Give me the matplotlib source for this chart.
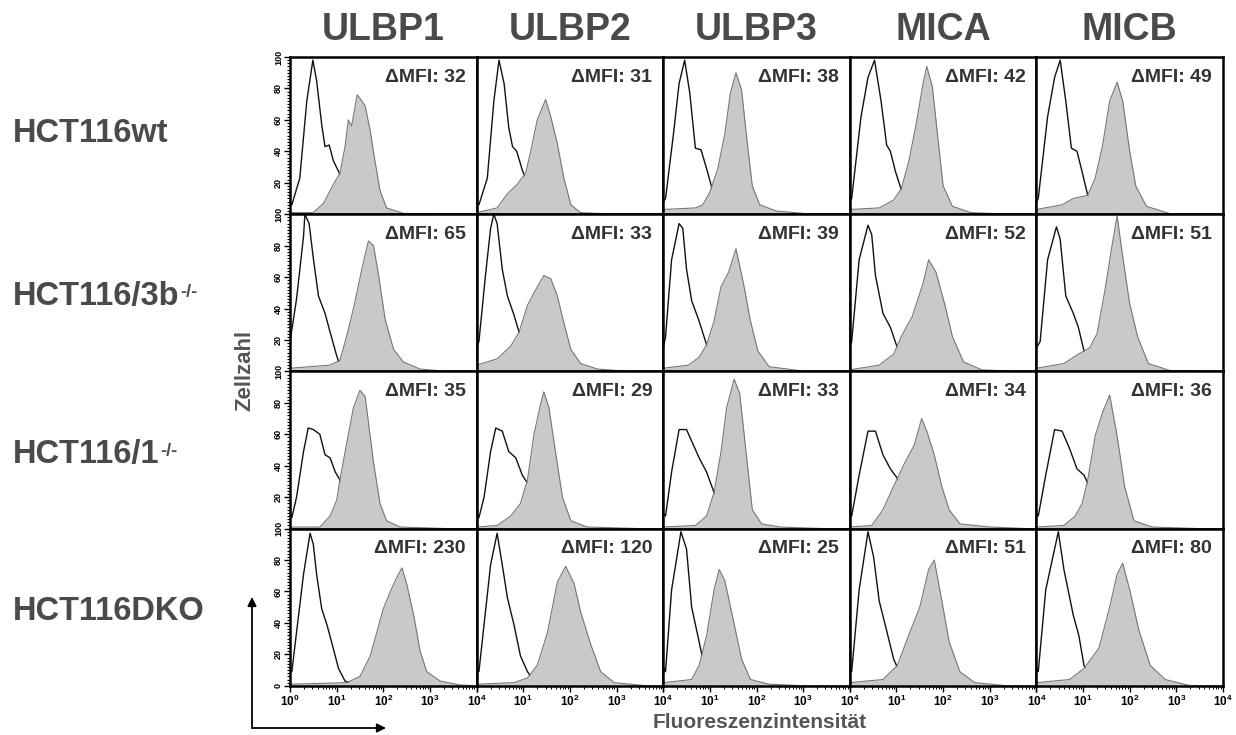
import numpy as np
import matplotlib
matplotlib.use('Agg')
import matplotlib.pyplot as plt
from matplotlib.ticker import FixedLocator, MultipleLocator, LogLocator, NullFormatter
from matplotlib.patches import FancyArrowPatch

matplotlib.rcParams['font.family'] = ['Liberation Sans', 'DejaVu Sans']
matplotlib.rcParams['font.weight'] = 'bold'
matplotlib.rcParams['mathtext.fontset'] = 'custom'
matplotlib.rcParams['mathtext.rm'] = 'Liberation Sans:bold'
matplotlib.rcParams['mathtext.bf'] = 'Liberation Sans:bold'
matplotlib.rcParams['mathtext.it'] = 'Liberation Sans:bold'

markers = ['ULBP1', 'ULBP2', 'ULBP3', 'MICA', 'MICB']
cell_lines = ['HCT116wt', 'HCT116/3b', 'HCT116/1', 'HCT116DKO']
superscripts = ['', '-/-', '-/-', '']

mfi_wt = [32, 31, 38, 42, 49]
mfi_3b = [65, 33, 39, 52, 51]
mfi_1 = [35, 29, 33, 34, 36]
mfi_dko = [230, 120, 25, 51, 80]

# histogram outlines: x in decades (log10 intensity), y in % of max
# isotype control (open black line)
ctrl_x_wt = [[0.0, 0.04, 0.21, 0.36, 0.49, 0.57, 0.68, 0.75, 0.84, 0.93, 1.06, 1.3, 1.6, 2.0],
             [0.0, 0.05, 0.23, 0.37, 0.48, 0.59, 0.69, 0.77, 0.86, 0.98, 1.05, 1.3, 1.6, 2.0],
             [0.0, 0.05, 0.22, 0.34, 0.46, 0.57, 0.69, 0.81, 0.93, 1.05, 1.3, 1.6],
             [0.0, 0.04, 0.24, 0.39, 0.53, 0.67, 0.79, 0.87, 0.98, 1.1, 1.35, 1.7],
             [0.0, 0.04, 0.24, 0.39, 0.51, 0.63, 0.75, 0.87, 0.98, 1.1, 1.35, 1.7]]
ctrl_y_wt = [[8, 6, 23, 72, 98, 85, 57, 43, 44, 34, 26, 10, 2, 0],
             [8, 6, 23, 72, 98, 83, 55, 43, 40, 28, 23, 8, 2, 0],
             [8, 10, 51, 83, 98, 77, 42, 41, 29, 16, 4, 0],
             [8, 10, 62, 87, 98, 72, 44, 40, 27, 16, 4, 0],
             [8, 10, 62, 87, 98, 72, 42, 40, 27, 12, 3, 0]]
ctrl_x_3b = [[0.0, 0.14, 0.29, 0.32, 0.41, 0.5, 0.61, 0.75, 0.86, 1.0, 1.07, 1.3],
             [0.0, 0.05, 0.19, 0.3, 0.37, 0.44, 0.55, 0.66, 0.8, 0.91, 1.1, 1.4],
             [0.0, 0.05, 0.18, 0.34, 0.42, 0.5, 0.61, 0.77, 0.93, 1.1, 1.4],
             [0.0, 0.04, 0.2, 0.39, 0.47, 0.55, 0.71, 0.87, 1.02, 1.2, 1.5],
             [0.0, 0.08, 0.24, 0.43, 0.51, 0.63, 0.79, 0.9, 1.02, 1.2, 1.5]]
ctrl_y_3b = [[19, 46, 86, 100, 94, 72, 48, 37, 25, 10, 4, 0],
             [15, 19, 61, 91, 100, 94, 65, 48, 36, 25, 10, 0],
             [15, 22, 71, 94, 91, 65, 45, 32, 17, 6, 0],
             [15, 19, 71, 93, 87, 61, 37, 28, 15, 5, 0],
             [15, 19, 71, 92, 84, 48, 37, 28, 13, 4, 0]]
ctrl_x_1 = [[0.0, 0.04, 0.14, 0.29, 0.39, 0.5, 0.64, 0.75, 0.86, 0.97, 1.07, 1.3, 1.6, 1.9],
            [0.0, 0.05, 0.16, 0.3, 0.41, 0.55, 0.69, 0.84, 0.98, 1.09, 1.3, 1.6, 1.9],
            [0.0, 0.05, 0.18, 0.34, 0.5, 0.65, 0.77, 0.93, 1.09, 1.3, 1.6, 1.9],
            [0.0, 0.04, 0.2, 0.39, 0.55, 0.71, 0.87, 1.02, 1.3, 1.6, 1.9],
            [0.0, 0.04, 0.2, 0.39, 0.55, 0.71, 0.87, 1.02, 1.1, 1.3, 1.6, 1.9]]
ctrl_y_1 = [[10, 7, 20, 49, 64, 63, 60, 47, 45, 36, 31, 15, 4, 0],
            [10, 7, 20, 49, 64, 62, 49, 45, 34, 29, 15, 4, 0],
            [10, 8, 36, 63, 63, 53, 45, 36, 23, 12, 3, 0],
            [10, 8, 34, 62, 62, 47, 38, 32, 14, 3, 0],
            [10, 8, 34, 63, 62, 51, 38, 34, 29, 15, 3, 0]]
ctrl_x_dko = [[0.0, 0.04, 0.14, 0.29, 0.43, 0.5, 0.57, 0.68, 0.79, 0.89, 1.04, 1.18, 1.36, 1.6],
              [0.0, 0.05, 0.16, 0.3, 0.44, 0.55, 0.66, 0.8, 0.94, 1.09, 1.23, 1.5],
              [0.0, 0.05, 0.18, 0.38, 0.5, 0.61, 0.77, 0.89, 1.0, 1.3],
              [0.0, 0.04, 0.2, 0.39, 0.51, 0.63, 0.79, 0.94, 1.06, 1.3, 1.6],
              [0.0, 0.04, 0.2, 0.47, 0.59, 0.79, 0.91, 1.02, 1.18, 1.5]]
ctrl_y_dko = [[12, 9, 34, 71, 97, 90, 71, 49, 39, 28, 11, 3, 1, 0],
              [12, 9, 39, 77, 97, 77, 56, 39, 19, 9, 3, 0],
              [12, 9, 61, 98, 87, 50, 28, 11, 4, 0],
              [12, 9, 61, 98, 82, 54, 35, 17, 9, 2, 0],
              [12, 9, 61, 98, 74, 45, 32, 13, 4, 0]]

# specific staining (filled grey)
stain_x_wt = [[0.0, 0.5, 0.72, 0.93, 1.07, 1.18, 1.25, 1.32, 1.44, 1.54, 1.61, 1.72, 1.82, 1.93, 2.07, 2.43, 3.36, 4.0],
              [0.0, 0.44, 0.66, 0.87, 1.05, 1.16, 1.3, 1.48, 1.59, 1.73, 1.87, 2.02, 2.23, 2.95, 4.0],
              [0.0, 0.69, 0.85, 1.0, 1.17, 1.32, 1.44, 1.56, 1.68, 1.8, 1.91, 2.07, 2.43, 3.2, 4.0],
              [0.0, 0.63, 0.94, 1.1, 1.26, 1.42, 1.57, 1.65, 1.77, 1.89, 2.0, 2.2, 2.6, 3.4, 4.0],
              [0.0, 0.55, 0.79, 1.1, 1.26, 1.42, 1.57, 1.73, 1.85, 2.0, 2.13, 2.36, 2.9, 4.0]]
stain_y_wt = [[1, 1, 7, 19, 26, 43, 60, 56, 76, 72, 69, 53, 34, 15, 4, 0.5, 0, 0],
              [1, 4, 13, 19, 26, 40, 60, 73, 62, 45, 23, 6, 1, 0, 0],
              [3, 4, 6, 14, 29, 51, 77, 90, 79, 46, 18, 6, 2, 0, 0],
              [3, 4, 9, 16, 33, 57, 83, 94, 81, 48, 18, 5, 1, 0, 0],
              [3, 6, 10, 12, 23, 44, 72, 84, 72, 40, 18, 5, 0, 0]]
stain_x_3b = [[0.0, 0.86, 1.07, 1.22, 1.36, 1.54, 1.68, 1.79, 1.9, 2.04, 2.22, 2.43, 2.79, 3.36, 4.0],
              [0.0, 0.44, 0.73, 0.91, 1.09, 1.23, 1.44, 1.59, 1.73, 1.87, 2.02, 2.23, 2.59, 3.3, 4.0],
              [0.0, 0.54, 0.77, 0.93, 1.09, 1.24, 1.4, 1.56, 1.72, 1.87, 2.03, 2.27, 3.05, 4.0],
              [0.0, 0.63, 0.94, 1.1, 1.34, 1.57, 1.69, 1.85, 2.05, 2.2, 2.44, 2.83, 3.6, 4.0],
              [0.0, 0.59, 0.9, 1.14, 1.3, 1.46, 1.61, 1.73, 1.85, 2.0, 2.17, 2.4, 2.87, 4.0]]
stain_y_3b = [[2, 4, 7, 23, 40, 65, 83, 80, 61, 33, 14, 6, 1.5, 0, 0],
              [4, 8, 16, 25, 42, 50, 61, 59, 48, 31, 14, 5, 1.5, 0, 0],
              [2, 4, 9, 17, 32, 54, 63, 78, 56, 32, 13, 3, 0, 0],
              [1, 4, 11, 22, 35, 56, 71, 63, 41, 22, 6, 1, 0, 0],
              [2, 5, 11, 15, 24, 50, 78, 99, 73, 43, 22, 5, 0.5, 0]]
stain_x_1 = [[0.0, 0.64, 0.86, 1.0, 1.07, 1.22, 1.36, 1.5, 1.61, 1.68, 1.79, 1.93, 2.07, 2.36, 3.36, 4.0],
             [0.0, 0.44, 0.73, 0.94, 1.09, 1.23, 1.37, 1.44, 1.55, 1.69, 1.84, 2.02, 2.37, 3.5, 4.0],
             [0.0, 0.69, 0.93, 1.09, 1.24, 1.36, 1.52, 1.64, 1.76, 1.91, 2.11, 2.5, 3.45, 4.0],
             [0.0, 0.47, 0.71, 0.94, 1.18, 1.38, 1.54, 1.65, 1.81, 1.97, 2.13, 2.36, 3.0, 3.8, 4.0],
             [0.0, 0.59, 0.83, 0.98, 1.1, 1.26, 1.42, 1.57, 1.73, 1.89, 2.09, 2.48, 3.5, 4.0]]
stain_y_1 = [[1, 1, 8, 18, 31, 55, 77, 88, 84, 68, 42, 16, 5, 1, 0, 0],
             [1, 2, 8, 16, 31, 60, 79, 87, 77, 49, 20, 5, 1, 0, 0],
             [1, 2, 8, 23, 49, 77, 95, 86, 53, 12, 3, 1, 0, 0],
             [1, 2, 12, 27, 42, 53, 70, 62, 47, 27, 12, 3, 1, 0, 0],
             [1, 2, 8, 16, 31, 59, 74, 85, 59, 27, 5, 1, 0, 0]]
stain_x_dko = [[0.0, 1.22, 1.5, 1.72, 1.86, 2.0, 2.15, 2.29, 2.4, 2.5, 2.65, 2.79, 2.93, 3.22, 3.65, 4.0],
               [0.0, 0.8, 1.09, 1.3, 1.52, 1.73, 1.91, 2.09, 2.23, 2.45, 2.66, 2.95, 3.66, 4.0],
               [0.0, 0.61, 0.77, 0.93, 1.09, 1.2, 1.32, 1.48, 1.68, 1.87, 2.27, 3.05, 4.0],
               [0.0, 0.71, 1.02, 1.26, 1.5, 1.69, 1.81, 1.93, 2.13, 2.36, 2.68, 3.38, 4.0],
               [0.0, 0.71, 1.02, 1.34, 1.57, 1.73, 1.85, 2.0, 2.2, 2.44, 2.76, 3.31, 4.0]]
stain_y_dko = [[1, 2, 6, 19, 34, 49, 60, 69, 75, 65, 45, 22, 9, 3, 0.5, 0],
               [1, 2, 5, 13, 34, 66, 76, 65, 47, 26, 9, 2, 0, 0],
               [2, 4, 13, 32, 61, 74, 67, 45, 17, 4, 1, 0, 0],
               [2, 4, 13, 32, 50, 74, 80, 61, 28, 9, 2, 0, 0],
               [2, 4, 11, 24, 50, 71, 78, 61, 35, 13, 4, 0, 0]]

rows = [
    (ctrl_x_wt, ctrl_y_wt, stain_x_wt, stain_y_wt, mfi_wt),
    (ctrl_x_3b, ctrl_y_3b, stain_x_3b, stain_y_3b, mfi_3b),
    (ctrl_x_1, ctrl_y_1, stain_x_1, stain_y_1, mfi_1),
    (ctrl_x_dko, ctrl_y_dko, stain_x_dko, stain_y_dko, mfi_dko),
]

W, H = 1236, 735
fig = plt.figure(figsize=(W / 100, H / 100), dpi=100)

# panel grid in pixels
grid_left, panel_w = 290, 186.6
grid_top, panel_h = 57, 157.2
label_grey = '#4a4a4a'


def fx(px):
    return px / W


def fy(py):
    return 1 - py / H


for r, (cxs, cys, sxs, sys_, mfis) in enumerate(rows):
    for c in range(5):
        left = grid_left + c * panel_w
        top = grid_top + r * panel_h
        ax = fig.add_axes([fx(left), fy(top + panel_h), panel_w / W, panel_h / H])
        ax.set_xscale('log')
        ax.set_xlim(1, 1e4)
        ax.set_ylim(0, 100)

        cx = 10 ** np.array(cxs[c])
        sx = 10 ** np.array(sxs[c])
        ax.plot(cx, cys[c], color='#111111', lw=1.0, zorder=2)
        ax.fill_between(sx, sys_[c], 0, color='#c9c9c9', lw=0, zorder=3)
        ax.plot(sx, sys_[c], color='#777777', lw=0.8, zorder=4)

        ax.text(1 - 11 / panel_w, 1 - 20 / panel_h, '\u0394MFI: %d' % mfis[c],
                transform=ax.transAxes, ha='right', va='center',
                fontsize=14, fontweight='bold', color='#333333', zorder=6)

        for sp in ax.spines.values():
            sp.set_linewidth(1.8)
            sp.set_color('black')
            sp.set_zorder(7)

        ax.tick_params(which='both', left=False, bottom=False, top=False, right=False,
                       labelleft=False, labelbottom=False)
        ax.xaxis.set_minor_formatter(NullFormatter())

        if c == 0:
            ticks = [0, 20, 40, 60, 80, 100] if r == 3 else [20, 40, 60, 80, 100]
            ax.yaxis.set_major_locator(FixedLocator(ticks))
            ax.yaxis.set_minor_locator(MultipleLocator(2))
            ax.tick_params(axis='y', which='major', direction='out', length=4, width=1,
                           left=True, labelleft=True, labelsize=6.5, pad=1)
            ax.tick_params(axis='y', which='minor', direction='out', length=2, width=0.8,
                           left=True)
            for lab in ax.get_yticklabels():
                lab.set_rotation(90)
                lab.set_va('center')
                lab.set_fontweight('bold')

        if r == 3:
            ax.xaxis.set_major_locator(FixedLocator([1, 10, 100, 1000, 10000]))
            ax.xaxis.set_minor_locator(LogLocator(base=10, subs=np.arange(2, 10), numticks=20))
            ax.tick_params(axis='x', which='major', direction='out', length=4, width=1,
                           bottom=True, labelbottom=True, labelsize=8.5, pad=2)
            ax.tick_params(axis='x', which='minor', direction='out', length=2, width=0.7,
                           bottom=True)
            labels = [r'$10^{%d}$' % k for k in range(5)]
            if c > 0:
                labels[0] = ''
            ax.set_xticklabels(labels)

        if r == 0:
            fig.text(fx(left + panel_w / 2), fy(30), markers[c], ha='center', va='center',
                     fontsize=27, fontweight='bold', color=label_grey)

# row labels with superscripts
renderer = fig.canvas.get_renderer()
row_y = [134, 297, 455, 612]
for name, sup, yy in zip(cell_lines, superscripts, row_y):
    t = fig.text(fx(13), fy(yy), name, ha='left', va='center', fontsize=23.5,
                 fontweight='bold', color=label_grey)
    if sup:
        bb = t.get_window_extent(renderer=renderer)
        fig.text(bb.x1 / W + 0.001, (bb.y1 - 3) / H, sup, ha='left', va='top',
                 fontsize=13, fontweight='bold', color=label_grey)

fig.text(fx(245), fy(370), 'Zellzahl', rotation=90, ha='center', va='center',
         fontsize=16, fontweight='bold', color='#555555')
fig.text(fx(760), fy(722), 'Fluoreszenzintensit\u00e4t', ha='center', va='center',
         fontsize=15, fontweight='bold', color='#555555')

# axis direction arrows
corner = (fx(252), fy(728))
for end in [(fx(252), fy(597)), (fx(386), fy(728))]:
    fig.add_artist(FancyArrowPatch(corner, end, transform=fig.transFigure,
                                   arrowstyle='-|>', mutation_scale=13, lw=1.3,
                                   color='black', shrinkA=0, shrinkB=0))

fig.savefig('out.png', dpi=100)
